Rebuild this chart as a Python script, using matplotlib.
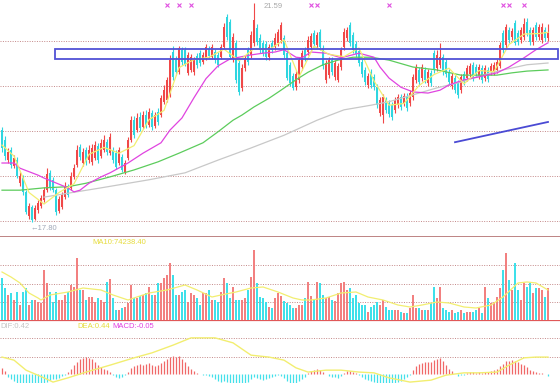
import numpy as np
import matplotlib.pyplot as plt
from matplotlib.patches import Rectangle
import matplotlib.transforms as mtransforms

plt.rcParams['font.family'] = ['Liberation Sans', 'DejaVu Sans']

# K line data (one entry per trading day, left to right)
opens = [19.39, 19.22, 18.87, 19.05, 18.77, 18.87, 18.47, 18.56, 18.32, 17.90,
         18.06, 17.86, 18.01, 18.08, 18.18, 18.35, 18.65, 18.53, 18.35, 17.99,
         18.06, 18.23, 18.41, 18.39, 18.58, 18.79, 19.10, 18.82, 19.05, 18.87,
         18.84, 18.91, 19.12, 18.94, 19.05, 19.18, 18.99, 19.05, 18.99, 18.82,
         18.92, 18.66, 18.91, 19.22, 19.56, 19.39, 19.62, 19.44, 19.65, 19.48,
         19.69, 19.46, 19.70, 19.65, 19.88, 19.91, 20.00, 20.74, 20.60, 20.39,
         20.78, 20.78, 20.38, 20.43, 20.39, 20.67, 20.72, 20.57, 20.64, 20.79,
         20.65, 20.74, 20.69, 20.65, 20.83, 21.35, 21.26, 20.64, 20.90, 20.55,
         20.12, 20.46, 20.78, 20.69, 20.90, 21.16, 20.98, 20.90, 20.88, 20.65,
         20.90, 20.83, 20.90, 20.95, 20.98, 20.72, 20.52, 20.33, 20.13, 20.26,
         20.48, 20.78, 20.74, 20.83, 21.07, 20.86, 21.09, 20.81, 20.26, 20.34,
         20.60, 20.31, 20.26, 20.48, 20.83, 20.98, 21.21, 21.03, 20.88, 20.76,
         20.57, 20.43, 20.17, 20.39, 20.31, 20.13, 19.69, 19.65, 19.91, 19.86,
         19.82, 19.74, 19.82, 19.96, 19.86, 19.98, 19.86, 19.96, 20.26, 20.43,
         20.29, 20.43, 20.20, 20.38, 20.72, 20.46, 20.52, 20.65, 20.57, 20.39,
         20.15, 20.29, 20.20, 20.08, 20.36, 20.29, 20.36, 20.52, 20.48, 20.33,
         20.46, 20.29, 20.43, 20.39, 20.39, 20.43, 20.50, 21.07, 20.86, 21.12,
         21.00, 21.24, 21.07, 20.95, 21.00, 21.26, 21.12, 20.91, 21.21, 21.00,
         20.95, 21.12, 20.98]
highs = [19.44, 19.29, 19.08, 19.10, 18.96, 18.92, 18.66, 18.61, 18.35, 18.13,
         18.09, 18.09, 18.18, 18.27, 18.41, 18.73, 18.70, 18.58, 18.39, 18.25,
         18.32, 18.49, 18.46, 18.66, 18.80, 19.13, 19.15, 19.08, 19.10, 19.13,
         19.15, 19.20, 19.17, 19.24, 19.30, 19.24, 19.34, 19.10, 19.05, 19.10,
         18.98, 18.87, 19.27, 19.63, 19.63, 19.69, 19.70, 19.72, 19.74, 19.77,
         19.74, 19.70, 19.77, 20.00, 20.17, 20.31, 20.69, 20.84, 20.67, 20.84,
         20.83, 20.83, 20.74, 20.71, 20.65, 20.72, 20.78, 20.74, 20.88, 20.84,
         20.88, 20.79, 20.74, 20.88, 21.24, 21.40, 21.31, 21.07, 20.95, 20.60,
         20.53, 20.69, 20.83, 21.10, 21.59, 21.22, 21.05, 20.95, 20.93, 20.88,
         20.95, 21.07, 21.14, 21.26, 21.03, 20.78, 20.57, 20.38, 20.41, 20.65,
         20.78, 20.83, 21.02, 21.07, 21.12, 21.09, 21.14, 20.86, 20.60, 20.65,
         20.65, 20.60, 20.55, 20.83, 21.16, 21.17, 21.26, 21.09, 20.93, 20.81,
         20.62, 20.48, 20.38, 20.45, 20.36, 20.19, 19.96, 20.01, 19.96, 19.91,
         19.88, 19.96, 20.01, 20.01, 20.03, 20.03, 20.08, 20.36, 20.53, 20.48,
         20.53, 20.48, 20.45, 20.43, 20.78, 20.78, 20.90, 20.71, 20.62, 20.45,
         20.38, 20.34, 20.26, 20.36, 20.41, 20.52, 20.55, 20.57, 20.53, 20.53,
         20.52, 20.52, 20.48, 20.55, 20.57, 20.62, 20.91, 21.12, 21.22, 21.17,
         21.16, 21.29, 21.12, 21.17, 21.33, 21.33, 21.17, 21.17, 21.26, 21.22,
         21.24, 21.17, 21.22]
lows = [19.01, 18.87, 18.82, 18.73, 18.73, 18.56, 18.42, 18.27, 17.94, 17.86,
        17.80, 17.83, 17.95, 18.04, 18.15, 18.32, 18.35, 18.32, 17.92, 17.95,
        18.02, 18.20, 18.23, 18.35, 18.54, 18.75, 18.87, 18.77, 18.79, 18.82,
        18.79, 18.87, 18.82, 18.91, 19.01, 18.96, 18.96, 18.82, 18.72, 18.79,
        18.66, 18.63, 18.87, 19.18, 19.25, 19.36, 19.37, 19.41, 19.43, 19.44,
        19.39, 19.43, 19.48, 19.62, 19.84, 19.88, 19.96, 20.26, 20.34, 20.36,
        20.52, 20.50, 20.34, 20.39, 20.34, 20.46, 20.50, 20.53, 20.60, 20.64,
        20.62, 20.55, 20.48, 20.62, 20.79, 20.95, 20.62, 20.57, 20.20, 20.00,
        20.07, 20.41, 20.52, 20.64, 20.84, 20.86, 20.72, 20.67, 20.60, 20.60,
        20.72, 20.78, 20.84, 20.90, 20.64, 20.26, 20.15, 20.08, 20.08, 20.20,
        20.43, 20.59, 20.69, 20.78, 20.83, 20.81, 20.78, 20.45, 20.20, 20.29,
        20.34, 20.26, 20.22, 20.43, 20.78, 20.93, 20.84, 20.72, 20.65, 20.50,
        20.31, 20.17, 20.12, 20.12, 20.08, 19.77, 19.63, 19.51, 19.69, 19.62,
        19.56, 19.69, 19.77, 19.74, 19.81, 19.72, 19.81, 19.91, 20.20, 20.17,
        20.24, 20.20, 20.15, 20.15, 20.38, 20.41, 20.46, 20.34, 20.31, 20.17,
        20.10, 20.03, 19.94, 20.03, 20.17, 20.24, 20.31, 20.24, 20.31, 20.27,
        20.20, 20.24, 20.22, 20.34, 20.34, 20.38, 20.46, 20.72, 20.81, 20.90,
        20.95, 20.86, 20.86, 20.90, 20.95, 21.02, 20.86, 20.86, 20.95, 20.95,
        20.90, 20.93, 20.93]
closes = [19.08, 18.94, 19.01, 18.79, 18.91, 18.60, 18.60, 18.32, 17.97, 18.08,
          17.83, 18.04, 18.13, 18.21, 18.35, 18.63, 18.39, 18.35, 17.97, 18.20,
          18.27, 18.42, 18.27, 18.60, 18.73, 19.05, 18.92, 19.01, 18.84, 19.05,
          19.08, 19.13, 18.87, 19.17, 19.22, 19.01, 19.27, 18.87, 18.75, 19.05,
          18.70, 18.82, 19.22, 19.56, 19.30, 19.60, 19.43, 19.65, 19.48, 19.70,
          19.44, 19.65, 19.53, 19.94, 20.08, 20.26, 20.60, 20.31, 20.39, 20.81,
          20.57, 20.53, 20.69, 20.65, 20.60, 20.52, 20.55, 20.69, 20.83, 20.67,
          20.83, 20.60, 20.52, 20.83, 21.17, 21.00, 20.65, 21.00, 20.26, 20.05,
          20.46, 20.64, 20.57, 21.03, 21.29, 20.91, 20.78, 20.72, 20.65, 20.83,
          20.78, 20.98, 21.09, 21.21, 20.69, 20.29, 20.20, 20.12, 20.36, 20.60,
          20.72, 20.64, 20.95, 21.02, 20.88, 21.03, 20.83, 20.50, 20.55, 20.60,
          20.39, 20.55, 20.50, 20.78, 21.09, 21.12, 20.90, 20.78, 20.71, 20.55,
          20.36, 20.22, 20.33, 20.17, 20.13, 19.82, 19.91, 19.96, 19.74, 19.67,
          19.62, 19.91, 19.96, 19.79, 19.98, 19.77, 20.03, 20.31, 20.46, 20.22,
          20.48, 20.26, 20.39, 20.20, 20.43, 20.69, 20.65, 20.39, 20.36, 20.22,
          20.33, 20.08, 20.00, 20.31, 20.22, 20.46, 20.50, 20.29, 20.36, 20.48,
          20.26, 20.46, 20.27, 20.50, 20.52, 20.57, 20.86, 20.78, 21.17, 20.95,
          21.10, 20.90, 20.91, 21.12, 21.22, 21.07, 20.91, 21.12, 21.00, 21.17,
          21.17, 20.98, 21.07]
volumes = [103900, 79200, 61900, 66800, 49500, 69300, 37100, 69300, 79200, 37100,
           49500, 49500, 44600, 42100, 123800, 91600, 69300, 44600, 69300, 49500,
           49500, 61900, 69300, 86600, 81700, 153500, 74300, 74300, 49500, 56900,
           56900, 44600, 54500, 49500, 44600, 94100, 101500, 54500, 24800, 24800,
           29700, 32200, 42100, 86600, 54500, 54500, 59400, 61900, 66800, 81700,
           61900, 61900, 91600, 91600, 104000, 111400, 141100, 111400, 61900, 61900,
           69300, 74300, 44600, 66800, 61900, 54500, 37100, 66800, 66800, 74300,
           49500, 49500, 44600, 69300, 104000, 91600, 54500, 81700, 49500, 49500,
           49500, 54500, 74300, 106400, 173300, 91600, 56900, 54500, 44600, 32200,
           29700, 54500, 66800, 59400, 47000, 42100, 37100, 29700, 29700, 37100,
           37100, 54500, 94100, 59400, 49500, 94100, 91600, 61900, 54500, 56900,
           49500, 47000, 66800, 91600, 94100, 74300, 79200, 54500, 61900, 42100,
           37100, 37100, 19800, 32200, 37100, 44600, 37100, 49500, 32200, 24800,
           24800, 24800, 24800, 19800, 17300, 17300, 29700, 61900, 29700, 29700,
           24800, 24800, 24800, 42100, 81700, 54500, 81700, 29700, 24800, 19800,
           24800, 17300, 19800, 24800, 17300, 19800, 19800, 19800, 24800, 29700,
           17300, 81700, 54500, 42100, 44600, 56900, 79200, 123800, 165800, 99000,
           74300, 141100, 74300, 49500, 91600, 81700, 91600, 66800, 79200, 79200,
           74300, 56900, 79200]
macd_bar = [0.16, 0.08, -0.08, -0.13, -0.18, -0.23, -0.26, -0.31, -0.36, -0.39,
            -0.42, -0.39, -0.36, -0.34, -0.29, -0.21, -0.16, -0.13, -0.13, -0.10,
            -0.05, -0.03, 0.05, 0.13, 0.23, 0.31, 0.39, 0.42, 0.44, 0.42,
            0.39, 0.31, 0.23, 0.18, 0.13, 0.10, 0.05, -0.03, -0.08, -0.10,
            -0.08, -0.03, 0.05, 0.16, 0.21, 0.23, 0.26, 0.23, 0.26, 0.29,
            0.23, 0.21, 0.23, 0.29, 0.34, 0.39, 0.44, 0.47, 0.44, 0.47,
            0.39, 0.31, 0.21, 0.13, 0.08, 0.03, 0.0, -0.03, -0.03, -0.05,
            -0.08, -0.13, -0.18, -0.21, -0.18, -0.21, -0.26, -0.23, -0.29, -0.31,
            -0.26, -0.23, -0.21, -0.13, -0.08, -0.10, -0.13, -0.16, -0.13, -0.10,
            -0.08, -0.05, -0.03, -0.05, -0.10, -0.18, -0.23, -0.26, -0.23, -0.18,
            -0.13, -0.08, 0.03, 0.08, 0.10, 0.13, 0.10, 0.05, 0.0, -0.05,
            -0.08, -0.08, -0.10, -0.05, 0.03, 0.08, 0.08, 0.05, 0.03, -0.03,
            -0.08, -0.13, -0.16, -0.18, -0.21, -0.26, -0.29, -0.29, -0.31, -0.31,
            -0.31, -0.26, -0.21, -0.18, -0.13, -0.08, -0.03, 0.10, 0.21, 0.26,
            0.29, 0.31, 0.31, 0.31, 0.36, 0.39, 0.42, 0.34, 0.23, 0.13,
            0.08, 0.0, -0.05, -0.03, -0.03, 0.03, 0.05, 0.05, 0.03, 0.05,
            0.03, 0.05, 0.05, 0.08, 0.10, 0.13, 0.21, 0.26, 0.34, 0.34,
            0.36, 0.34, 0.31, 0.26, 0.23, 0.18, 0.10, 0.08, 0.05, 0.03,
            0.03, 0.0, -0.05]

# moving averages (day index, value)
ma5_idx = [0, 4, 9, 14, 19, 24, 29, 34, 39, 44, 49, 54, 59, 64, 69, 74, 79, 84, 89,
           94, 99, 104, 109, 114, 119, 124, 129, 134, 139, 144, 149, 154, 159, 164,
           169, 174, 179, 182]
ma5 = [19.13, 18.94, 18.31, 18.11, 18.31, 18.46, 18.97, 19.09, 18.99, 19.12, 19.57,
       19.73, 20.47, 20.61, 20.65, 20.79, 20.59, 20.80, 20.78, 20.95, 20.31, 20.84,
       20.70, 20.66, 20.81, 20.24, 19.82, 19.85, 20.16, 20.35, 20.46, 20.19, 20.42,
       20.40, 20.87, 21.05, 21.06, 21.08]
ma20_idx = [0, 4, 6, 12, 14, 22, 24, 26, 29, 33, 36, 42, 47, 53, 56, 60, 64, 68, 72,
            76, 83, 87, 91, 94, 98, 100, 103, 108, 113, 119, 124, 126, 129, 133, 137,
            142, 146, 149, 154, 159, 165, 169, 174, 178, 182]
ma20 = [18.82, 18.82, 18.73, 18.61, 18.56, 18.39, 18.32, 18.35, 18.47, 18.58, 18.65,
        18.82, 18.99, 19.17, 19.39, 19.60, 19.95, 20.28, 20.50, 20.62, 20.69, 20.72,
        20.74, 20.78, 20.65, 20.64, 20.74, 20.72, 20.64, 20.72, 20.65, 20.48, 20.29,
        20.13, 20.05, 20.03, 20.08, 20.17, 20.26, 20.31, 20.38, 20.48, 20.64, 20.78,
        20.90]
ma30_idx = [0, 6, 14, 22, 28, 36, 44, 52, 59, 67, 72, 77, 80, 84, 89, 93, 98, 102,
            107, 112, 117, 123, 129, 137, 145, 153, 159, 165, 170, 175, 182]
ma30 = [18.35, 18.35, 18.39, 18.41, 18.47, 18.58, 18.70, 18.84, 18.99, 19.17, 19.36,
        19.56, 19.65, 19.79, 19.94, 20.08, 20.26, 20.39, 20.52, 20.60, 20.65, 20.65,
        20.60, 20.48, 20.43, 20.34, 20.34, 20.34, 20.38, 20.41, 20.43]
ma60_idx = [14, 33, 49, 61, 72, 83, 94, 105, 114, 123, 129, 137, 145, 153, 160, 167,
            175, 182]
ma60 = [18.23, 18.39, 18.53, 18.65, 18.87, 19.08, 19.30, 19.56, 19.74, 19.82, 19.88,
        20.00, 20.12, 20.22, 20.34, 20.43, 20.52, 20.55]
vma10_idx = [0, 3, 6, 9, 12, 13, 16, 22, 27, 33, 37, 42, 44, 49, 55, 61, 65, 70, 73,
             78, 83, 87, 92, 97, 100, 103, 108, 113, 118, 122, 127, 132, 136, 140,
             145, 149, 154, 158, 163, 167, 172, 175, 178, 182]
vma10 = [118800, 106400, 91600, 66800, 54500, 49500, 61900, 69300, 79200, 74300,
         61900, 49500, 54500, 66800, 74300, 86600, 74300, 56900, 61900, 69300, 79200,
         81700, 69300, 54500, 49500, 49500, 54500, 66800, 69300, 56900, 49500, 37100,
         32200, 37100, 44600, 42100, 32200, 29700, 37100, 56900, 91600, 94100, 91600,
         74238.4]
dea_idx = [0, 4, 8, 14, 17, 22, 28, 36, 44, 50, 57, 63, 71, 77, 83, 89, 94, 98, 102,
           108, 113, 119, 124, 129, 136, 143, 148, 154, 159, 165, 169, 174, 178, 182]
dea = [0.44, 0.36, 0.10, -0.10, -0.21, -0.10, 0.05, 0.23, 0.42, 0.55, 0.75, 0.94,
       0.94, 0.81, 0.49, 0.44, 0.36, 0.16, 0.05, 0.10, 0.10, 0.05, 0.03, -0.10, -0.21,
       -0.16, -0.03, 0.03, 0.03, 0.05, 0.23, 0.42, 0.44, 0.44]

signal_idx = [55, 59, 63, 103, 105, 129, 167, 169, 174]

UP, DN = '#f04848', '#2ed6e0'
VUP, VDN = '#f28080', '#3ee0ea'
GRID = '#c48888'
W, H = 560, 383

fig = plt.figure(figsize=(W / 100, H / 100), dpi=100)

def panel(top, bottom):
    a = fig.add_axes([0, 1 - bottom / H, 1, (bottom - top) / H])
    a.set_xlim(-0.67, 186)
    a.axis('off')
    return a

ax = panel(0, 237)
axv = panel(237, 320)
axm = panel(320, 383)

n = len(closes)
x = np.arange(n)
o, c = np.array(opens), np.array(closes)
hi, lo = np.array(highs), np.array(lows)
up = c >= o

# price panel
ax.set_ylim(17.54, 21.64)
for g in [20.93, 20.15, 19.37, 18.60, 17.82]:
    ax.axhline(g, color=GRID, lw=0.7, ls=(0, (1, 1.5)), zorder=0)
ax.vlines(x, lo, hi, colors=np.where(up, UP, DN), lw=0.8, zorder=2)
body = np.maximum(np.abs(c - o), 0.012)
ax.bar(x, body, bottom=np.minimum(o, c), width=0.72,
       color=np.where(up, UP, DN), linewidth=0, zorder=2)
ax.plot(ma60_idx, ma60, color='#c8c8c8', lw=0.9, zorder=3)
ax.plot(ma30_idx, ma30, color='#5ccc5c', lw=0.9, zorder=3)
ax.plot(ma20_idx, ma20, color='#e044e0', lw=0.9, zorder=3)
ax.plot(ma5_idx, ma5, color='#f2ee70', lw=0.9, zorder=3)

# drawn box and trend line
ax.add_patch(Rectangle((17.7, 20.62), 185.3 - 17.7, 20.79 - 20.62, fill=False,
                       ec='#5252d6', lw=1.3, zorder=4))
ax.plot([151, 182], [19.18, 19.53], color='#4a4ad4', lw=1.3, zorder=4)

trans = mtransforms.blended_transform_factory(ax.transData, ax.transAxes)
ax.plot(signal_idx, [0.978] * len(signal_idx), 'x', color='#e050e0', ms=2.5,
        mew=0.8, transform=trans, clip_on=False)
ax.axhline(17.54, color='#b87878', lw=2.0)

# volume panel
axv.set_ylim(0, 205400)
for g in [45000, 90000, 135000]:
    axv.axhline(g, color=GRID, lw=0.7, ls=(0, (1, 1.5)), zorder=0)
axv.bar(x, volumes, width=0.72, color=np.where(up, VUP, VDN), linewidth=0, zorder=2)
axv.plot(vma10_idx, vma10, color='#f2ee70', lw=0.9, zorder=3)

# MACD panel
axm.set_ylim(-0.234, 1.404)
for g in [0.45, 0.93]:
    axm.axhline(g, color=GRID, lw=0.7, ls=(0, (1, 1.5)), zorder=0)
m = np.array(macd_bar)
axm.vlines(x, 0, m, colors=np.where(m >= 0, '#f06868', '#44e0ea'), lw=0.9, zorder=2)
axm.plot(dea_idx, dea, color='#f2ee70', lw=1.0, zorder=3)
axm.axhline(1.404, color='#e05858', lw=1.6)

def label(px, py, s, color):
    fig.text(px / W, 1 - py / H, s, color=color, fontsize=5.5, ha='left', va='center')

label(264, 7, '21.59', '#a8a8a8')
label(31, 229, '\u219017.80', '#a0a8b8')
label(92, 243, 'MA10:74238.40', '#e6dc3c')
label(0, 326, 'DIF:0.42', '#c4c4c4')
label(77, 326, 'DEA:0.44', '#e6dc3c')
label(112, 326, 'MACD:-0.05', '#e040e0')

fig.savefig('out.png', dpi=100)
